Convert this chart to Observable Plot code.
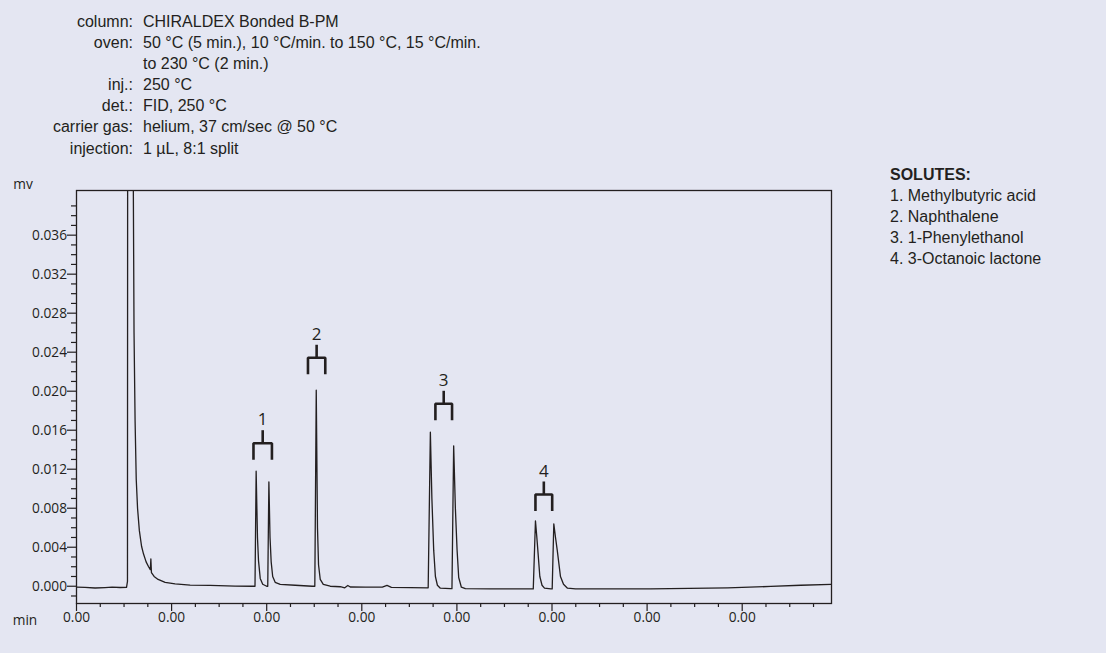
<!DOCTYPE html>
<html><head><meta charset="utf-8">
<script src="https://cdn.jsdelivr.net/npm/d3@7"></script>
<script src="https://cdn.jsdelivr.net/npm/@observablehq/plot@0.6"></script>
<style>
html,body{margin:0;padding:0;background:#e4e6f2;}
#wrap{position:relative;width:1106px;height:653px;overflow:hidden;background:#e4e6f2;color:#231f20;}
#chart{position:absolute;left:0;top:0;}
#chart g[aria-label$="tick label"], #chart g[aria-label$="tick label"] text{font-size:13.7px !important;font-family:"Open Sans",sans-serif !important;}
.hdr{position:absolute;left:0;top:11px;font-family:"Liberation Sans",Arial,sans-serif;font-size:16px;line-height:21.1px;display:grid;grid-template-columns:133px auto;column-gap:10px;}
.hdr .k{text-align:right;white-space:nowrap;}
.hdr .v{white-space:nowrap;}
.leg{position:absolute;left:890px;top:163.5px;font-family:"Liberation Sans",Arial,sans-serif;font-size:16px;line-height:21.2px;white-space:nowrap;}
.leg .t{font-weight:bold;}
.unit{position:absolute;font-family:"Open Sans",sans-serif;font-size:13.7px;transform:translate(-50%,-50%);white-space:nowrap;}
</style>
</head><body>
<div id="wrap">
  <div id="chart"></div>
  <div class="hdr" id="hdr"></div>
  <div class="leg" id="leg"></div>
  <div class="unit" style="left:23px;top:183px;">mv</div>
  <div class="unit" style="left:25px;top:619px;">min</div>
</div>
<script>
// ---- conditions (header) ----
const conditionLabels = ["column:", "oven:", "", "inj.:", "det.:", "carrier gas:", "injection:"];
const conditionValues = ["CHIRALDEX Bonded B-PM", "50 °C (5 min.), 10 °C/min. to 150 °C, 15 °C/min.", "to 230 °C (2 min.)", "250 °C", "FID, 250 °C", "helium, 37 cm/sec @ 50 °C", "1 µL, 8:1 split"];

// ---- legend ----
const legendTitle = "SOLUTES:";
const solutes = ["1. Methylbutyric acid", "2. Naphthalene", "3. 1-Phenylethanol", "4. 3-Octanoic lactone"];

// ---- axes ----
const xTickValues = [0, 1, 2, 3, 4, 5, 6, 7];
const xTickLabels = ["0.00", "0.00", "0.00", "0.00", "0.00", "0.00", "0.00", "0.00"];
const yTickValues = [0, 0.004, 0.008, 0.012, 0.016, 0.020, 0.024, 0.028, 0.032, 0.036];

// ---- chromatogram trace (time, mV) ----
const traceTime = [
  0.000, 0.089, 0.195, 0.300, 0.374, 0.458, 0.526, 0.536, 0.538, 0.595, 0.598, 0.605, 0.616, 0.628, 0.642, 0.661, 0.684, 0.705, 0.732, 0.758,
  0.776, 0.782, 0.788, 0.816, 0.858, 0.932, 1.037, 1.195, 1.405, 1.668, 1.847,
  1.877, 1.889, 1.903, 1.914, 1.932, 1.958, 2.000,
  2.011, 2.023, 2.035, 2.047, 2.063, 2.089, 2.142, 2.300, 2.479,
  2.506, 2.521, 2.534, 2.545, 2.563, 2.595, 2.668, 2.774, 2.821, 2.853, 2.879, 3.037, 3.216, 3.265, 3.311, 3.511, 3.698,
  3.721, 3.737, 3.756, 3.774, 3.795, 3.826, 3.932,
  3.948, 3.966, 3.984, 4.002, 4.019, 4.047, 4.089, 4.353,
  4.803, 4.826, 4.839, 4.851, 4.872, 4.895, 4.921, 4.989,
  5.002, 5.019, 5.037, 5.055, 5.089, 5.121, 5.163, 5.247, 6.037, 6.847, 7.300, 7.616, 7.939
];
const traceSignal = [
  -0.00010, -0.00012, -0.00018, -0.00014, -0.00010, -0.00013, -0.00012, 0.0005, 0.05, 0.05, 0.040, 0.026, 0.017, 0.011, 0.0080, 0.0057, 0.0041, 0.0033, 0.0025, 0.0020,
  0.0017, 0.0028, 0.0014, 0.0010, 0.0007, 0.0004, 0.00025, 0.00012, 0.00008, 0.00002, 0.0,
  0.0, 0.0118, 0.0050, 0.0026, 0.0008, 0.0002, 0.0,
  0.0, 0.0107, 0.0050, 0.0025, 0.0010, 0.0004, 0.0002, 0.0001, 0.0,
  0.0, 0.0201, 0.0060, 0.0022, 0.0007, 0.0002, 0.0, -0.00005, -0.00016, 0.00008, -0.00008, -0.0001, -0.0001, 0.00008, -0.00012, -0.00015, -0.00016,
  0.0158, 0.0090, 0.0037, 0.0010, 0.0001, -0.0002, -0.00025,
  -0.00025, 0.0144, 0.0080, 0.0037, 0.0009, -0.0001, -0.00025, -0.00027,
  -0.00027, 0.0067, 0.0052, 0.0037, 0.0010, 0.0001, -0.0002, -0.00027,
  -0.00027, 0.0064, 0.0050, 0.0037, 0.0010, 0.0002, -0.0002, -0.00028, -0.00027, -0.00017, -0.00002, 0.0001, 0.0002
];

// ---- peak annotations (enantiomer pairs) ----
const peakLabels = ["1", "2", "3", "4"];
const bracketStart = [1.861, 2.434, 3.774, 4.826];
const bracketEnd = [2.055, 2.616, 3.949, 5.002];
const bracketLevel = [0.01467, 0.02343, 0.01871, 0.00941];

// ---- build ----
const hdr = document.getElementById("hdr");
conditionLabels.forEach((k, i) => {
  const a = document.createElement("div"); a.className = "k"; a.textContent = k; hdr.appendChild(a);
  const b = document.createElement("div"); b.className = "v"; b.textContent = conditionValues[i]; hdr.appendChild(b);
});
const leg = document.getElementById("leg");
{ const t = document.createElement("div"); t.className = "t"; t.textContent = legendTitle; leg.appendChild(t); }
solutes.forEach(s => { const d = document.createElement("div"); d.textContent = s; leg.appendChild(d); });

const trace = traceTime.map((t, i) => ({t, v: traceSignal[i]}));
const legDrop = 0.0017, stemRise = 0.00128, labelRise = 0.0024;
const brackets = peakLabels.map((label, i) => ({label, x1: bracketStart[i], x2: bracketEnd[i], mid: (bracketStart[i] + bracketEnd[i]) / 2, level: bracketLevel[i]}));
const bracketPath = brackets.flatMap(b => [
  {k: b.label, x: b.x1, y: b.level - legDrop},
  {k: b.label, x: b.x1, y: b.level},
  {k: b.label, x: b.x2, y: b.level},
  {k: b.label, x: b.x2, y: b.level - legDrop}
]);

const yMinor = d3.range(-1, 40).map(d => d / 1000).filter(d => Math.round(d * 1000) % 4 !== 0);
const xMinor = d3.range(0, 32).map(d => d / 4).filter(d => Math.round(d * 4) % 4 !== 0);

const ink = "#231f20";
const chart = Plot.plot({
  width: 1106, height: 653,
  marginLeft: 76, marginRight: 275, marginTop: 190, marginBottom: 50,
  x: {domain: [0, 7.939], label: null},
  y: {domain: [-0.00177, 0.04058], label: null},
  style: {background: "transparent", color: ink, fontFamily: "'Open Sans', sans-serif", fontSize: "13.7px", overflow: "visible"},
  marks: [
    Plot.line(trace, {x: "t", y: "v", stroke: ink, strokeWidth: 1.3, clip: true}),
    Plot.frame({stroke: ink, strokeWidth: 1.3}),
    Plot.axisY(yMinor, {tickSize: 5, tickFormat: () => "", strokeWidth: 1.2}),
    Plot.axisY(yTickValues, {tickSize: 9, tickPadding: 0.5, tickFormat: d3.format(".3f"), strokeWidth: 1.2, fontSize: 13.7}),
    Plot.axisX(xMinor, {tickSize: 4, tickFormat: () => "", strokeWidth: 1.2}),
    Plot.axisX(xTickValues, {tickSize: 8, tickPadding: 1, tickFormat: d => xTickLabels[xTickValues.indexOf(d)], strokeWidth: 1.2, fontSize: 13.7}),
    Plot.line(bracketPath, {x: "x", y: "y", z: "k", stroke: ink, strokeWidth: 2.6, strokeLinejoin: "miter", strokeLinecap: "butt"}),
    Plot.ruleX(brackets, {x: "mid", y1: "level", y2: d => d.level + stemRise, stroke: ink, strokeWidth: 2.6}),
    Plot.text(brackets, {x: "mid", y: d => d.level + labelRise, text: "label", fill: ink, fontSize: 17, fontFamily: "'Open Sans', sans-serif"})
  ]
});
document.getElementById("chart").appendChild(chart);
</script>
</body></html>
